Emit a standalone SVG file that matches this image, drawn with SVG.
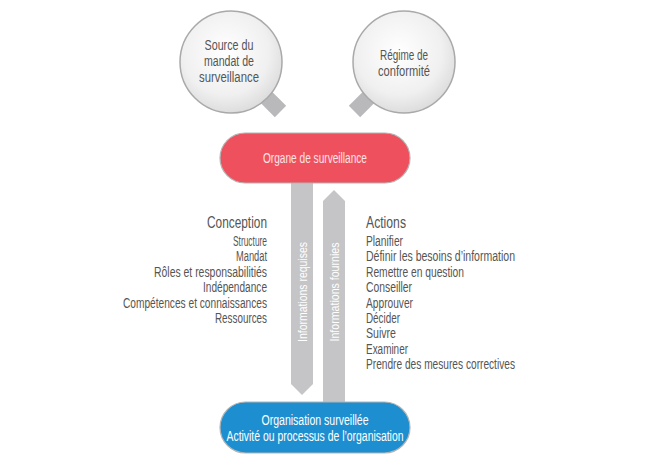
<svg xmlns="http://www.w3.org/2000/svg" width="650" height="470" viewBox="0 0 650 470">
<defs>
<radialGradient id="lens" cx="0.45" cy="0.4" r="0.65">
<stop offset="0" stop-color="#ffffff"/>
<stop offset="0.65" stop-color="#f0f0f0"/>
<stop offset="1" stop-color="#d8d8d8"/>
</radialGradient>
<style>
text{font-family:"Liberation Sans",Arial,sans-serif}
.lbl{font-size:14px;fill:#555555}
.head{font-size:17px;fill:#555555}
.ctext{font-size:14px;fill:#555555;text-anchor:middle}
.ptext{font-size:14px;text-anchor:middle}
.atext{font-size:13.5px;fill:#ffffff;text-anchor:middle}
.lens{fill:url(#lens);stroke:#a9a9a9;stroke-width:1.5}
.handle{fill:#b9b9bb}
.arrow{fill:#c5c5c7}
.end{text-anchor:end}
</style>
</defs>
<rect width="650" height="470" fill="#ffffff"/>

<g id="source">
<rect class="handle" x="38" y="-8" width="32" height="16" transform="translate(231,62) rotate(45)"/>
<circle class="lens" cx="231" cy="62" r="51"/>
<text class="ctext" x="229" y="50" textLength="49" lengthAdjust="spacingAndGlyphs">Source du</text>
<text class="ctext" x="229" y="66" textLength="50" lengthAdjust="spacingAndGlyphs">mandat de</text>
<text class="ctext" x="229" y="82" textLength="60" lengthAdjust="spacingAndGlyphs">surveillance</text>
</g>

<g id="regime">
<rect class="handle" x="38" y="-8" width="32" height="16" transform="translate(404,62) rotate(135)"/>
<circle class="lens" cx="404" cy="62" r="51"/>
<text class="ctext" x="404" y="60" textLength="48" lengthAdjust="spacingAndGlyphs">Régime de</text>
<text class="ctext" x="404" y="76" textLength="52" lengthAdjust="spacingAndGlyphs">conformité</text>
</g>

<g id="connectors">
<g id="info-requises">
<polygon class="arrow" points="291,180 313,180 313,384 302,395 291,384"/>
<text class="atext" transform="translate(307,292) rotate(-90)" textLength="100" lengthAdjust="spacingAndGlyphs">Informations requises</text>
</g>
<g id="info-fournies">
<polygon class="arrow" points="334,190 345,201 345,410 323,410 323,201"/>
<text class="atext" transform="translate(339,292) rotate(-90)" textLength="99" lengthAdjust="spacingAndGlyphs">Informations fournies</text>
</g>
</g>

<g id="organe">
<rect x="220" y="133" width="190" height="50" rx="25" fill="#ef505e" stroke="#b4b4b4" stroke-width="1.2"/>
<text class="ptext" x="315" y="163" fill="#fde3e6" textLength="104" lengthAdjust="spacingAndGlyphs">Organe de surveillance</text>
</g>

<g id="organisation">
<rect x="220" y="402" width="190" height="51" rx="25.5" fill="#1d8fd1" stroke="#b4b4b4" stroke-width="1.2"/>
<text class="ptext" x="315" y="425" fill="#ffffff" textLength="107" lengthAdjust="spacingAndGlyphs">Organisation surveillée</text>
<text class="ptext" x="315" y="441" fill="#ffffff" textLength="177" lengthAdjust="spacingAndGlyphs">Activité ou processus de l’organisation</text>
</g>

<g id="conception">
<text class="head end" x="267" y="228" textLength="60" lengthAdjust="spacingAndGlyphs">Conception</text>
<text class="lbl end" x="267" y="246" textLength="34" lengthAdjust="spacingAndGlyphs">Structure</text>
<text class="lbl end" x="267" y="261" textLength="31" lengthAdjust="spacingAndGlyphs">Mandat</text>
<text class="lbl end" x="267" y="277" textLength="113" lengthAdjust="spacingAndGlyphs">Rôles et responsabilitiés</text>
<text class="lbl end" x="267" y="292" textLength="64" lengthAdjust="spacingAndGlyphs">Indépendance</text>
<text class="lbl end" x="267" y="308" textLength="144" lengthAdjust="spacingAndGlyphs">Compétences et connaissances</text>
<text class="lbl end" x="267" y="323" textLength="52" lengthAdjust="spacingAndGlyphs">Ressources</text>
</g>

<g id="actions">
<text class="head" x="366" y="228" textLength="40" lengthAdjust="spacingAndGlyphs">Actions</text>
<text class="lbl" x="366" y="246" textLength="37" lengthAdjust="spacingAndGlyphs">Planifier</text>
<text class="lbl" x="366" y="261" textLength="149" lengthAdjust="spacingAndGlyphs">Définir les besoins d’information</text>
<text class="lbl" x="366" y="277" textLength="98" lengthAdjust="spacingAndGlyphs">Remettre en question</text>
<text class="lbl" x="366" y="292" textLength="46" lengthAdjust="spacingAndGlyphs">Conseiller</text>
<text class="lbl" x="366" y="308" textLength="47" lengthAdjust="spacingAndGlyphs">Approuver</text>
<text class="lbl" x="366" y="323" textLength="34" lengthAdjust="spacingAndGlyphs">Décider</text>
<text class="lbl" x="366" y="338" textLength="30" lengthAdjust="spacingAndGlyphs">Suivre</text>
<text class="lbl" x="366" y="354" textLength="42" lengthAdjust="spacingAndGlyphs">Examiner</text>
<text class="lbl" x="366" y="369" textLength="149" lengthAdjust="spacingAndGlyphs">Prendre des mesures correctives</text>
</g>
</svg>
